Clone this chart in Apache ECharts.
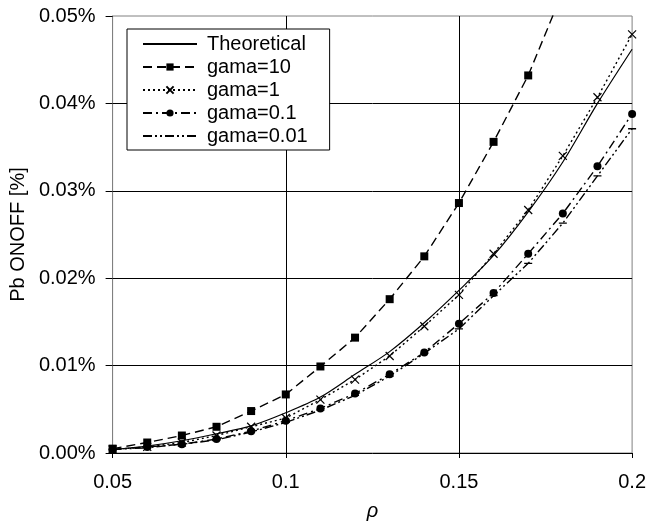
<!DOCTYPE html>
<html>
<head>
<meta charset="utf-8">
<script src="https://cdn.jsdelivr.net/npm/echarts@6/dist/echarts.min.js"></script>
<style>
  html, body { margin: 0; padding: 0; background: #fff; }
  #chart { width: 649px; height: 526px; }
</style>
</head>
<body>
<div id="chart"></div>
<script>
// rho values (x axis)
var rho = [0.05, 0.06, 0.07, 0.08, 0.09, 0.10, 0.11, 0.12, 0.13, 0.14, 0.15, 0.16, 0.17, 0.18, 0.19, 0.20];
// Pb ONOFF in percent
var theoretical = [0.0004, 0.0008, 0.0014, 0.0022, 0.0031, 0.0046, 0.0064, 0.0090, 0.0116, 0.0149, 0.0186, 0.0226, 0.0276, 0.0333, 0.0400, 0.0462];
var gama10 = [0.0005, 0.0012, 0.0020, 0.0030, 0.0048, 0.0067, 0.0099, 0.0132, 0.0176, 0.0225, 0.0286, 0.0356, 0.0432, 0.0528];
var gama1 = [0.0004, 0.0007, 0.0012, 0.0020, 0.0030, 0.0040, 0.0061, 0.0084, 0.0111, 0.0145, 0.0181, 0.0228, 0.0278, 0.0340, 0.0407, 0.0479];
var gama01 = [0.0004, 0.0007, 0.0010, 0.0016, 0.0025, 0.0037, 0.0051, 0.0068, 0.0090, 0.0115, 0.0148, 0.0183, 0.0228, 0.0274, 0.0328, 0.0388];
var gama001 = [0.0004, 0.0006, 0.0010, 0.0015, 0.0024, 0.0035, 0.0049, 0.0066, 0.0088, 0.0114, 0.0142, 0.0180, 0.0217, 0.0263, 0.0317, 0.0371];
var seriesNames = ['Theoretical', 'gama=10', 'gama=1', 'gama=0.1', 'gama=0.01'];

function pairs(ys) {
  return ys.map(function (v, i) { return [rho[i], v]; });
}

// marker shapes (tiny corner dots keep the square bounding box)
var crossSymbol = 'path://M0,0L10,10M10,0L0,10';
var dashSymbol = 'path://M0,4.2h10v1.6h-10z M0,0h0.01v0.01h-0.01z M10,10h-0.01v-0.01h0.01z';

var font = '"Liberation Sans", Arial, sans-serif';
var myChart = echarts.init(document.getElementById('chart'), null, { renderer: 'canvas' });

var option = {
  animation: false,
  backgroundColor: '#fff',
  textStyle: { fontFamily: font, color: '#000' },
  grid: {
    left: 111, right: 15, top: 16, bottom: 59,
    show: true, borderColor: '#808080', borderWidth: 1
  },
  legend: {
    orient: 'vertical',
    left: 127, top: 29,
    data: [
      { name: 'Theoretical', itemStyle: { opacity: 0 } },
      'gama=10', 'gama=1', 'gama=0.1', 'gama=0.01'
    ],
    backgroundColor: '#fff',
    borderColor: '#000', borderWidth: 1, borderRadius: 0,
    padding: [5, 22, 4, 15],
    itemWidth: 54, itemHeight: 9, itemGap: 3,
    textStyle: { fontFamily: font, fontSize: 20, color: '#000', padding: [0, 0, 0, 5] }
  },
  xAxis: {
    type: 'value',
    min: 0.05, max: 0.2, interval: 0.05,
    name: 'ρ',
    nameLocation: 'middle',
    nameGap: 48,
    nameTextStyle: { fontFamily: font, fontSize: 20, fontStyle: 'italic', color: '#000' },
    axisLine: { show: true, onZero: false, lineStyle: { color: '#000', width: 1 } },
    axisTick: { show: true, inside: false, length: 5, lineStyle: { color: '#000' } },
    axisLabel: {
      fontFamily: font, fontSize: 20, color: '#000', margin: 19,
      formatter: function (v) { return String(+v.toFixed(2)); }
    },
    splitLine: { show: true, showMinLine: false, showMaxLine: false, lineStyle: { color: '#000', width: 1 } }
  },
  yAxis: {
    type: 'value',
    min: 0, max: 0.05, interval: 0.01,
    name: 'Pb ONOFF [%]',
    nameLocation: 'middle',
    nameGap: 80,
    nameTextStyle: { fontFamily: font, fontSize: 20, color: '#000' },
    axisLine: { show: true, lineStyle: { color: '#808080', width: 1 } },
    axisTick: { show: true, inside: false, length: 7, lineStyle: { color: '#000' } },
    axisLabel: {
      fontFamily: font, fontSize: 20, color: '#000', margin: 17,
      formatter: function (v) { return v.toFixed(2) + '%'; }
    },
    splitLine: { show: true, showMinLine: false, showMaxLine: false, lineStyle: { color: '#000', width: 1 } }
  },
  series: [
    {
      name: 'Theoretical', type: 'line', data: pairs(theoretical),
      smooth: 0.3, showSymbol: false, symbol: 'none',
      lineStyle: { color: '#000', width: 1.2, type: 'solid' },
      itemStyle: { color: '#000' }
    },
    {
      name: 'gama=10', type: 'line', data: pairs(gama10),
      symbol: 'rect', symbolSize: 8,
      lineStyle: { color: '#000', width: 1.4, type: [9, 5] },
      itemStyle: { color: '#000' }
    },
    {
      name: 'gama=1', type: 'line', data: pairs(gama1),
      symbol: crossSymbol, symbolSize: 8,
      lineStyle: { color: '#000', width: 1.4, type: [2, 3] },
      itemStyle: { color: 'none', borderColor: '#000', borderWidth: 1.2 }
    },
    {
      name: 'gama=0.1', type: 'line', data: pairs(gama01),
      symbol: 'circle', symbolSize: 8,
      lineStyle: { color: '#000', width: 1.4, type: [9, 4, 2, 4] },
      itemStyle: { color: '#000' }
    },
    {
      name: 'gama=0.01', type: 'line', data: pairs(gama001),
      symbol: dashSymbol, symbolSize: 8,
      lineStyle: { color: '#000', width: 1.4, type: [9, 3, 2, 3, 2, 3] },
      itemStyle: { color: '#000' }
    }
  ]
};
myChart.setOption(option);
</script>
</body>
</html>
